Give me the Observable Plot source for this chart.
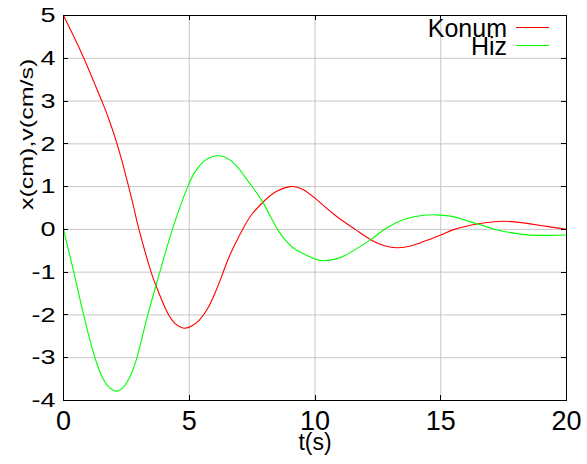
<!DOCTYPE html>
<html>
<head>
<meta charset="utf-8">
<script src="https://cdn.jsdelivr.net/npm/d3@7"></script>
<script src="https://cdn.jsdelivr.net/npm/@observablehq/plot@0.6"></script>
<style>
  body { margin: 0; background: #fff; }
  #chart { width: 587px; height: 464px; }
</style>
</head>
<body>
<div id="chart"></div>
<script>
// Konum (position) x(t)
const konumT = [0, 0.4, 0.81, 1.2, 1.54, 1.85, 2.13, 2.37, 2.59, 2.8, 3.0, 3.43, 3.7, 4.1, 4.45, 4.78, 5.1, 5.4, 5.7, 6.0, 6.3, 6.6, 7.12, 7.5, 7.94, 8.44, 9.0, 9.5, 10.0, 10.33, 10.89, 11.6, 12.21, 12.8, 13.3, 13.8, 14.2, 15.0, 15.55, 16.5, 17.5, 18.43, 19.22, 20];
const konumX = [5, 4.52, 4.0, 3.46, 2.98, 2.5, 2.0, 1.5, 1.0, 0.5, 0.0, -0.9, -1.35, -1.91, -2.21, -2.31, -2.26, -2.12, -1.88, -1.52, -1.08, -0.62, 0.0, 0.36, 0.64, 0.88, 1.0, 0.94, 0.73, 0.56, 0.29, 0.0, -0.24, -0.39, -0.43, -0.39, -0.31, -0.13, 0.0, 0.13, 0.19, 0.14, 0.07, 0.0];
// Hiz (velocity) v(t)
const hizT = [0, 0.41, 0.80, 1.25, 1.6, 1.85, 2.1, 2.35, 2.6, 2.92, 3.35, 3.83, 4.33, 4.94, 5.27, 5.6, 5.9, 6.13, 6.4, 6.85, 7.4, 7.94, 8.51, 8.9, 9.23, 10.0, 10.47, 11.0, 11.55, 12.21, 12.82, 13.53, 14.19, 14.8, 15.4, 15.8, 16.5, 17.0, 17.38, 18.17, 18.96, 20];
const hizV = [0, -1, -2, -3, -3.52, -3.71, -3.78, -3.71, -3.5, -3, -2, -1, 0, 1, 1.38, 1.6, 1.7, 1.72, 1.69, 1.5, 1.08, 0.62, 0, -0.3, -0.47, -0.69, -0.73, -0.66, -0.49, -0.24, 0.02, 0.23, 0.32, 0.34, 0.31, 0.25, 0.12, 0.03, -0.03, -0.11, -0.14, -0.13];

const xTicks = [0, 5, 10, 15, 20];
const yTicks = [-4, -3, -2, -1, 0, 1, 2, 3, 4, 5];
const seriesNames = ["Konum", "Hiz"];
const seriesColors = ["#ff0000", "#00ff00"];
const xLabel = "t(s)";
const yLabel = "x(cm),v(cm/s)";

const konum = konumT.map((t, i) => ({t, v: konumX[i]}));
const hiz = hizT.map((t, i) => ({t, v: hizV[i]}));

const plot = Plot.plot({
  width: 587,
  height: 464,
  marginLeft: 63,
  marginRight: 21,
  marginTop: 15,
  marginBottom: 64,
  style: {fontFamily: "'Liberation Sans', Arial, sans-serif", fontSize: "27px", background: "#fff", color: "#000"},
  x: {domain: [0, 20], ticks: xTicks, tickFormat: d => String(d), label: null, tickSize: 0, tickPadding: 10},
  y: {domain: [-4, 5], ticks: yTicks, tickFormat: d => String(d), label: null, tickSize: 0, tickPadding: 8},
  marks: [
    Plot.ruleX(xTicks, {stroke: "#c6c6c6", strokeWidth: 1}),
    Plot.ruleY(yTicks, {stroke: "#c6c6c6", strokeWidth: 1}),
    Plot.line(konum, {x: "t", y: "v", stroke: seriesColors[0], strokeWidth: 1.1, curve: "natural"}),
    Plot.line(hiz, {x: "t", y: "v", stroke: seriesColors[1], strokeWidth: 1.1, curve: "natural"}),
    Plot.frame({stroke: "#000", strokeWidth: 1}),
    Plot.text([xLabel], {frameAnchor: "bottom", dy: 49, fontSize: 23, fill: "#000"}),
    Plot.text([yLabel], {frameAnchor: "left", rotate: -90, dx: -37, dy: 2, fontSize: 25, fill: "#000"})
  ]
});

document.getElementById("chart").appendChild(plot);

(function () {
  const svg = d3.select(plot);
  const xs = plot.scale("x"), ys = plot.scale("y");
  const fLeft = 63, fRight = 587 - 21, fTop = 15, fBottom = 464 - 64;
  const tk = svg.append("g").attr("stroke", "#000").attr("stroke-width", 1);
  yTicks.forEach(v => {
    const y = Math.round(ys.apply(v)) + 0.5;
    tk.append("line").attr("x1", fLeft).attr("x2", fLeft + 5).attr("y1", y).attr("y2", y);
    tk.append("line").attr("x1", fRight - 5).attr("x2", fRight).attr("y1", y).attr("y2", y);
  });
  xTicks.forEach(v => {
    const x = Math.round(xs.apply(v)) + 0.5;
    tk.append("line").attr("x1", x).attr("x2", x).attr("y1", fBottom).attr("y2", fBottom - 5);
    tk.append("line").attr("x1", x).attr("x2", x).attr("y1", fTop).attr("y2", fTop + 5);
  });

  // squish y tick labels vertically like the reference
  svg.selectAll('g[aria-label^="y-axis"] text').each(function () {
    const cur = this.getAttribute("transform") || "";
    this.setAttribute("transform", cur + " scale(1,0.78)");
  });
  // squish y label thickness
  svg.selectAll("text").filter(function () { return this.textContent === yLabel; }).each(function () {
    const cur = this.getAttribute("transform") || "";
    this.setAttribute("transform", cur + " scale(1,0.75)");
  });

  // legend (top-right inside the frame)
  const lg = svg.append("g").attr("font-family", "'Liberation Sans', Arial, sans-serif").attr("font-size", 25);
  seriesNames.forEach((name, i) => {
    const yc = 27.5 + i * 18;
    lg.append("text").attr("x", 507).attr("y", yc + 9).attr("text-anchor", "end").attr("fill", "#000").text(name);
    lg.append("line").attr("x1", 516).attr("x2", 549).attr("y1", yc).attr("y2", yc)
      .attr("stroke", seriesColors[i]).attr("stroke-width", 1.1);
  });
})();
</script>
</body>
</html>
